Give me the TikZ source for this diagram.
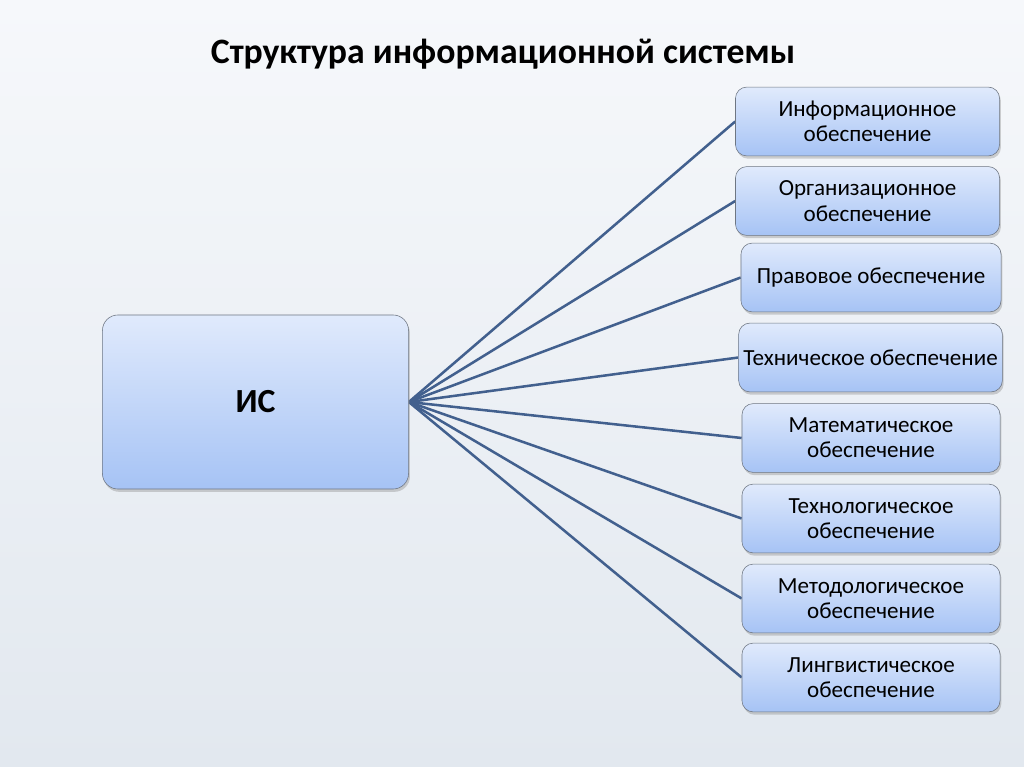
\documentclass[tikz,border=0pt]{standalone}
\usepackage{fontspec}
\setmainfont{Carlito}
\usetikzlibrary{shadows}
\pgfdeclarelayer{bg}
\pgfsetlayers{bg,main}
\definecolor{boxtop}{RGB}{224,234,252}
\definecolor{boxbot}{RGB}{166,195,245}
\definecolor{boxline}{RGB}{110,118,130}
\definecolor{wirecol}{RGB}{66,96,142}
\definecolor{pagetop}{RGB}{246,248,251}
\definecolor{pagebot}{RGB}{226,232,239}
\tikzstyle{part}=[rounded corners=8pt, draw=boxline, top color=boxtop, bottom color=boxbot,
  minimum width=6.6cm, minimum height=1.72cm, align=center, font=\fontsize{16.4}{18}\selectfont,
  drop shadow={shadow xshift=1pt, shadow yshift=-2pt, opacity=0.35}]
\tikzstyle{sys}=[part, minimum width=7.65cm, minimum height=4.35cm, rounded corners=11pt,
  font=\fontsize{24}{28}\selectfont\bfseries]
\tikzstyle{wire}=[-, line width=1.8pt, draw=wirecol]

\begin{document}
\begin{tikzpicture}[x=0.025cm, y=-0.025cm]
    \useasboundingbox (0,0) rectangle (1024,767);
    \node [font=\fontsize{25.4}{30}\selectfont\bfseries] (title) at (503, 54) {Структура информационной системы};

    \node [sys] (is) at (255.5, 402) {ИС};

    \node [part] (p1) at (867.5, 121.5) {Информационное\\обеспечение};
    \node [part] (p2) at (867.5, 201) {Организационное\\обеспечение};
    \node [part, minimum width=6.5cm] (p3) at (871, 277.5) {Правовое обеспечение};
    \node [part, minimum width=6.45cm] (p4) at (870.5, 357.5) {Техническое обеспечение};
    \node [part, minimum width=6.45cm] (p5) at (871, 438) {Математическое\\обеспечение};
    \node [part, minimum width=6.45cm] (p6) at (871, 518.5) {Технологическое\\обеспечение};
    \node [part, minimum width=6.45cm] (p7) at (871, 598.5) {Методологическое\\обеспечение};
    \node [part, minimum width=6.45cm] (p8) at (871, 677.5) {Лингвистическое\\обеспечение};

    \begin{pgfonlayer}{bg}
        \shade [top color=pagetop, bottom color=pagebot] (0,0) rectangle (1024,767);
        \draw [wire] (is.east) -- (p1.west);
        \draw [wire] (is.east) -- (p2.west);
        \draw [wire] (is.east) -- (p3.west);
        \draw [wire] (is.east) -- (p4.west);
        \draw [wire] (is.east) -- (p5.west);
        \draw [wire] (is.east) -- (p6.west);
        \draw [wire] (is.east) -- (p7.west);
        \draw [wire] (is.east) -- (p8.west);
    \end{pgfonlayer}
\end{tikzpicture}
\end{document}
